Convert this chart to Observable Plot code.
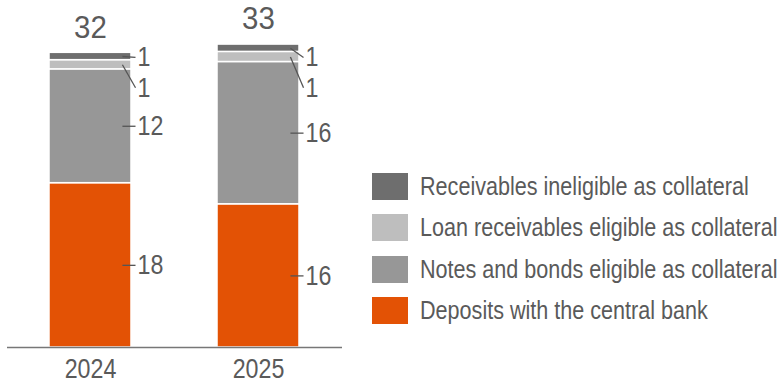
<!DOCTYPE html>
<html><head><meta charset="utf-8">
<script src="https://cdn.jsdelivr.net/npm/d3@7"></script>
<script src="https://cdn.jsdelivr.net/npm/@observablehq/plot@0.6"></script>
<style>
body{margin:0;background:#fff;}
#wrap{position:relative;width:782px;height:383px;font-family:"Liberation Sans",sans-serif;color:#5a5a5a;overflow:hidden;}
#chart{position:absolute;left:0;top:0;}
#legend{position:absolute;left:372px;top:173px;}
.row{display:flex;align-items:center;height:27px;margin-bottom:14.3px;}
.sw{width:36px;height:27px;margin-right:12px;flex:none;}
.lab{font-size:26px;line-height:27px;white-space:nowrap;color:#5a5a5a;transform:scaleX(0.83);transform-origin:left center;}
</style></head><body>
<div id="wrap"><div id="chart"></div><div id="legend"></div></div>
<script>
const years = ["2024", "2025"];
const seriesNames = [
  "Deposits with the central bank",
  "Notes and bonds eligible as collateral",
  "Loan receivables eligible as collateral",
  "Receivables ineligible as collateral"
];
const deposits   = [17.9, 15.6];
const notes      = [12.4, 15.5];
const loans      = [1.0, 1.1];
const ineligible = [0.8, 0.8];
const seriesColors = ["#e35205", "#979797", "#bebebe", "#6e6e6e"];

const values = [deposits, notes, loans, ineligible];
// callout positions (in y units) for thin segments
const calloutY = {[seriesNames[3]]: 31.6, [seriesNames[2]]: 28.3};

const segs = [];
years.forEach((yr, i) => {
  let base = 0;
  values.forEach((arr, s) => {
    const v = arr[i];
    const mid = base + v / 2;
    segs.push({i, year: yr, series: seriesNames[s], value: v, y1: base, y2: base + v, mid,
      ly: v < 2 ? calloutY[seriesNames[s]] : mid});
    base += v;
  });
});
const totals = years.map((yr, i) => ({i, year: yr, total: d3.sum(values, a => a[i])}));
const yearRows = years.map((yr, i) => ({i, year: yr}));

const half = 0.244;
const chart = Plot.plot({
  width: 350, height: 383,
  marginLeft: 7, marginRight: 8, marginTop: 0, marginBottom: 36,
  style: {fontFamily: '"Liberation Sans",sans-serif', color: "#5a5a5a", background: "transparent"},
  x: {domain: [-0.494, 1.5], axis: null},
  y: {domain: [0, 37.8], axis: null},
  color: {domain: seriesNames, range: seriesColors},
  marks: [
    Plot.rectY(segs, {x1: d => d.i - half, x2: d => d.i + half, y1: "y1", y2: "y2", fill: "series", stroke: "white", strokeWidth: 1.5}),
    Plot.ruleY([0], {stroke: "#777", strokeWidth: 1.5}),
    Plot.link(segs, {x1: d => d.i + 0.19, x2: d => d.i + 0.268, y1: "mid", y2: "ly", stroke: "#555", strokeWidth: 1.3}),
    Plot.text(segs, {x: d => d.i + 0.28, y: "ly", text: d => String(Math.round(d.value)), textAnchor: "start", fontSize: 28, fill: "#5a5a5a", className: "narrow"}),
    Plot.text(totals, {x: "i", y: "total", text: d => String(Math.round(d.total)), dy: -25, fontSize: 31, fill: "#5a5a5a", className: "wide"}),
    Plot.text(yearRows, {x: "i", y: 0, text: "year", dy: 11, lineAnchor: "top", fontSize: 28, fill: "#5a5a5a", className: "narrow"})
  ]
});
// condense glyphs horizontally around each text's anchor point
d3.select(chart).selectAll("text").each(function() {
  const g = this.closest("g");
  const k = g && g.classList.contains("wide") ? 0.95 : 0.83;
  const t = this.getAttribute("transform");
  if (t) {
    this.setAttribute("transform", `${t} scale(${k},1)`);
  } else {
    const x = parseFloat(this.getAttribute("x"));
    if (!isNaN(x)) {
      this.setAttribute("x", 0);
      this.setAttribute("transform", `translate(${x},0) scale(${k},1)`);
    }
  }
});
document.getElementById("chart").appendChild(chart);

const legend = document.getElementById("legend");
[3, 2, 1, 0].forEach(s => {
  const row = document.createElement("div");
  row.className = "row";
  const sw = document.createElement("div");
  sw.className = "sw";
  sw.style.background = seriesColors[s];
  const lab = document.createElement("div");
  lab.className = "lab";
  lab.textContent = seriesNames[s];
  row.appendChild(sw); row.appendChild(lab);
  legend.appendChild(row);
});
</script>
</body></html>
